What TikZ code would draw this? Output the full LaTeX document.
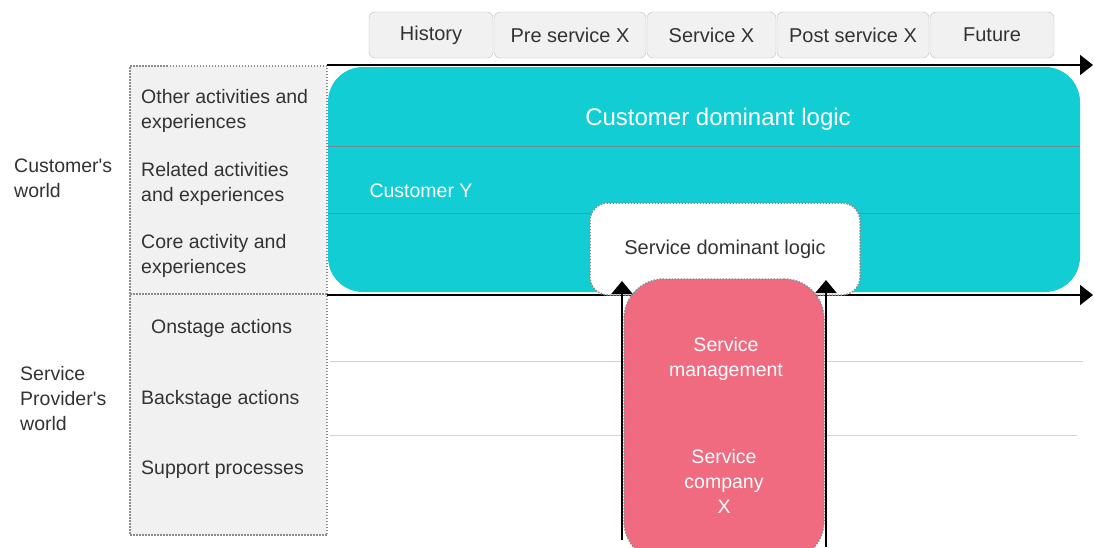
\documentclass[tikz,border=0pt]{standalone}
\usepackage{fontspec}
\setmainfont{Liberation Sans}
\usepackage{xcolor}
\usetikzlibrary{arrows.meta,positioning}

\definecolor{cdlteal}{HTML}{13CDD5}
\definecolor{companypink}{HTML}{F06B7F}
\definecolor{panelgray}{HTML}{F1F1F1}
\definecolor{textgray}{HTML}{333333}

\begin{document}
\begin{tikzpicture}[x=1pt, y=-1pt,
  tab/.style={draw=gray!50, fill=panelgray, rounded corners=6pt, minimum width=#1, minimum height=46pt, inner sep=0pt, text=textgray, font=\fontsize{20}{24}\selectfont},
  rowtext/.style={anchor=west, align=left, inner sep=0pt, text=textgray, font=\fontsize{19.5}{25}\selectfont},
  timeaxis/.style={line width=1.8pt, -{Triangle[length=13pt, width=20pt]}},
  uparrow/.style={line width=2.2pt, -{Triangle[length=13pt, width=21pt]}},
  dotframe/.style={draw=gray!90, dash pattern=on 1.5pt off 1.5pt, line width=1.5pt},
  whitetext/.style={text=white, align=center, inner sep=0pt}]

\useasboundingbox (0,0) rectangle (1094,547);

% phases
\node[tab=124pt] (history) at (431,35) {History};
\node[tab=152pt] (pre) at (570,35) {Pre service X};
\node[tab=129pt] (service) at (711.5,35) {Service X};
\node[tab=152pt] (post) at (853,35) {Post service X};
\node[tab=124pt] (future) at (992,35) {Future};

% left panel
\node[dotframe, fill=panelgray, minimum width=197pt, minimum height=469pt, inner sep=0pt] (panel) at (228.5,300.5) {};
\draw[dotframe] (130,294) -- (327,294);

\node[rowtext] (other) at (141,111) {Other activities and\\experiences};
\node[rowtext] (related) at (141,183.5) {Related activities\\and experiences};
\node[rowtext] (core) at (141,255.5) {Core activity and\\experiences};
\node[rowtext] (onstage) at (151,328) {Onstage actions};
\node[rowtext] (backstage) at (141,399) {Backstage actions};
\node[rowtext] (support) at (141,470) {Support processes};

\node[rowtext] (cworld) at (14,178.5) {Customer\textquotesingle s\\world};
\node[rowtext] (pworld) at (20,398.5) {Service\\Provider\textquotesingle s\\world};

% customer side
\node[fill=cdlteal, rounded corners=35pt, minimum width=752pt, minimum height=225pt, inner sep=0pt] (cdl) at (704,179.5) {};
\draw[gray!80!cdlteal, line width=0.8pt] (328,146) -- (1080,146);
\draw[gray!80!cdlteal, line width=0.8pt] (328,213) -- (1080,213);
\node[whitetext, font=\fontsize{24}{28}\selectfont] (cdltext) at (718,119.5) {Customer dominant logic};
\node[whitetext, font=\fontsize{19.5}{24}\selectfont] (custy) at (421,190.5) {Customer Y};

\coordinate (t0) at (327,65);
\coordinate (t1) at (1093,65);
\draw[timeaxis] (t0) -- (t1);
\coordinate (s0) at (327,295);
\coordinate (s1) at (1093,295);
\draw[timeaxis] (s0) -- (s1);

\node[dotframe, fill=white, rounded corners=18pt, minimum width=270pt, minimum height=92pt, text=textgray, font=\fontsize{20}{24}\selectfont] (sdl) at (725,249) {Service dominant logic};

% provider side
\draw[gray!35, line width=0.8pt] (330,361) -- (1083,361);
\draw[gray!35, line width=0.8pt] (330,435) -- (1077,435);

\node[dotframe, fill=companypink, rounded corners=40pt, minimum width=200pt, minimum height=282pt, inner sep=0pt] (company) at (724,420) {};
\node[whitetext, font=\fontsize{19.5}{25}\selectfont] (mgmt) at (726,358.5) {Service\\management};
\node[whitetext, font=\fontsize{19.5}{25}\selectfont] (companyx) at (724,481.5) {Service\\company\\X};

\coordinate (a0) at (622,540);
\coordinate (a1) at (622,281);
\draw[uparrow] (a0) -- (a1);
\coordinate (b0) at (826,547);
\coordinate (b1) at (826,280);
\draw[uparrow] (b0) -- (b1);

\end{tikzpicture}
\end{document}
